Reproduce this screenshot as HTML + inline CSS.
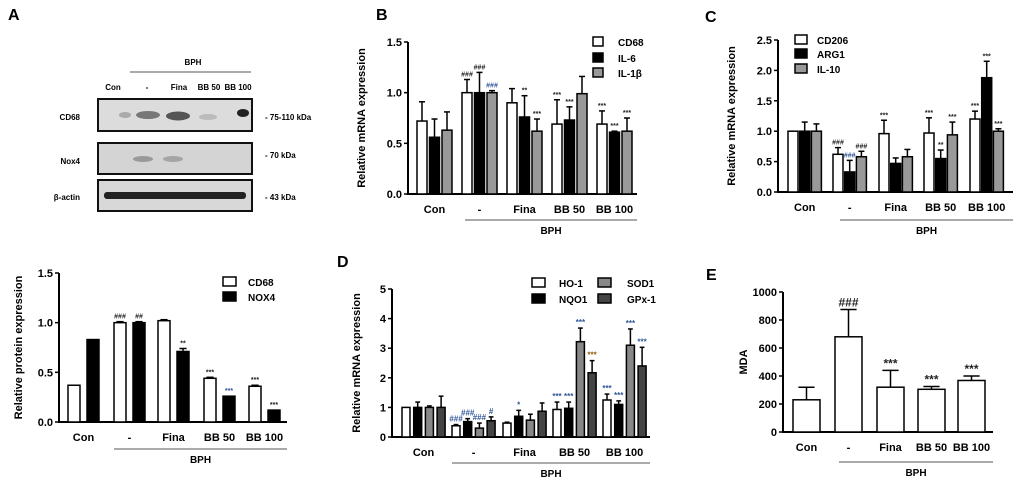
<!DOCTYPE html>
<html><head><meta charset="utf-8">
<style>
body{margin:0;background:#fff;width:1020px;height:487px;overflow:hidden}
svg{position:absolute;left:0;top:0;font-family:"Liberation Sans",Arial,sans-serif}
text{font-weight:bold}
</style></head><body>
<svg id="fig" width="1020" height="487">
<g font-size="8">
<text x="8" y="20" font-size="16">A</text>
<text x="193" y="65" text-anchor="middle">BPH</text>
<line x1="130" y1="72" x2="251" y2="72" stroke="#555" stroke-width="1"/>
<text x="113" y="90" text-anchor="middle">Con</text>
<text x="147" y="90" text-anchor="middle">-</text>
<text x="179" y="90" text-anchor="middle">Fina</text>
<text x="209" y="90" text-anchor="middle">BB 50</text>
<text x="238" y="90" text-anchor="middle">BB 100</text>
<rect x="98" y="99" width="154" height="32" fill="#dcdcdc" stroke="#111" stroke-width="2"/>
<ellipse cx="125" cy="115" rx="6" ry="3" fill="#aaa"/><ellipse cx="148" cy="115" rx="12" ry="4" fill="#777"/><ellipse cx="178" cy="116" rx="12" ry="4.5" fill="#555"/><ellipse cx="208" cy="117" rx="9" ry="3" fill="#bbb"/><ellipse cx="243" cy="113" rx="6" ry="4" fill="#222"/>
<rect x="98" y="143" width="154" height="31" fill="#d4d4d4" stroke="#111" stroke-width="2"/>
<ellipse cx="143" cy="159" rx="10" ry="3" fill="#999"/><ellipse cx="173" cy="159" rx="10" ry="3" fill="#a5a5a5"/>
<rect x="98" y="180" width="154" height="31" fill="#d8d8d8" stroke="#111" stroke-width="2"/>
<rect x="104" y="192" width="142" height="7" rx="3" fill="#222"/>
<text x="80" y="120" text-anchor="end">CD68</text>
<text x="80" y="164" text-anchor="end">Nox4</text>
<text x="80" y="200" text-anchor="end">β-actin</text>
<text x="265" y="120">- 75-110 kDa</text>
<text x="265" y="158">- 70 kDa</text>
<text x="265" y="200">- 43 kDa</text>
</g>
<text x="376" y="20" font-size="16">B</text>
<text x="705" y="22" font-size="16">C</text>
<text x="337" y="267" font-size="16">D</text>
<text x="706" y="280" font-size="16">E</text>
</svg>
<script>
const groups = ["Con","-","Fina","BB 50","BB 100"];
// Panel A (protein)
const aCD68 = [0.37,1.0,1.02,0.44,0.36];
const aCD68Err = [0.37,1.01,1.03,0.45,0.37];
const aNOX4 = [0.83,1.0,0.71,0.26,0.12];
const aNOX4Err = [0.83,1.01,0.74,0.26,0.12];
const aTicks = [0,0.5,1.0,1.5];
// Panel B
const bCD68 = [0.72,1.0,0.9,0.69,0.69];
const bCD68Err = [0.91,1.13,1.04,0.93,0.82];
const bIL6 = [0.56,1.0,0.76,0.73,0.61];
const bIL6Err = [0.74,1.2,0.97,0.86,0.62];
const bIL1 = [0.63,1.0,0.62,0.99,0.62];
const bIL1Err = [0.81,1.02,0.74,1.16,0.75];
const bTicks = [0,0.5,1.0,1.5];
// Panel C
const cCD206 = [1.0,0.62,0.96,0.97,1.2];
const cCD206Err = [1.0,0.73,1.18,1.22,1.33];
const cARG1 = [1.0,0.33,0.47,0.55,1.88];
const cARG1Err = [1.15,0.52,0.56,0.69,2.15];
const cIL10 = [1.0,0.58,0.58,0.94,1.0];
const cIL10Err = [1.12,0.67,0.7,1.15,1.04];
const cTicks = [0,0.5,1.0,1.5,2.0,2.5];
// Panel D
const dHO1 = [1.0,0.38,0.47,0.93,1.25];
const dHO1Err = [1.0,0.42,0.5,1.18,1.45];
const dNQO1 = [1.0,0.52,0.7,0.97,1.1];
const dNQO1Err = [1.18,0.62,0.9,1.18,1.22];
const dSOD1 = [1.0,0.3,0.57,3.22,3.1];
const dSOD1Err = [1.05,0.47,0.77,3.68,3.65];
const dGPX = [1.0,0.55,0.87,2.17,2.4];
const dGPXErr = [1.38,0.68,1.15,2.58,3.03];
const dTicks = [0,1,2,3,4,5];
// Panel E
const eMDA = [230,680,320,305,368];
const eMDAErr = [320,875,440,325,400];
const eTicks = [0,200,400,600,800,1000];

const NS="http://www.w3.org/2000/svg";
const fig=document.getElementById('fig');
function mk(tag,attrs,parent,txt){const e=document.createElementNS(NS,tag);for(const k in attrs)e.setAttribute(k,attrs[k]);if(txt!==undefined)e.textContent=txt;(parent||fig).appendChild(e);return e;}

function chart(c){
  const g=mk('g',{});
  
  
  const y=v=>c.y0-(v/c.max)*(c.y0-c.yTop);
  const ax=mk('line',{x1:c.ax,y1:c.yTop,x2:c.ax,y2:c.y0,stroke:'#000','stroke-width':2},g);
  
  const xa=mk('line',{x1:c.ax-1,y1:c.y0,x2:c.axEnd,y2:c.y0,stroke:'#000','stroke-width':2},g);
  
  c.ticks.forEach(t=>{
    mk('line',{x1:c.ax-4,y1:y(t),x2:c.ax,y2:y(t),stroke:'#000','stroke-width':1.5},g);
    const tl=mk('text',{x:c.ax-6,y:y(t)+4,'text-anchor':'end','font-size':11},g,c.fmt(t));
    
  });
  const yl=mk('text',{x:c.ylx,y:(c.y0+c.yTop)/2,'text-anchor':'middle','font-size':c.ylSize||11,transform:`rotate(-90 ${c.ylx} ${(c.y0+c.yTop)/2})`},g,c.ylabel);
  
  const n=c.series.length;
  groups.forEach((gname,i)=>{
    c.series.forEach((s,j)=>{
      const x=c.starts[i]+j*c.step;
      const v=s.vals[i], e=s.err[i];
      const r=mk('rect',{x:x,y:y(v),width:c.bw,height:c.y0-y(v),fill:s.fill,stroke:'#000','stroke-width':1.5},g);
      
      if(e>v){
        mk('line',{x1:x+c.bw/2,y1:y(v),x2:x+c.bw/2,y2:y(e),stroke:'#000','stroke-width':1.5},g);
        mk('line',{x1:x+c.bw/2-c.bw*0.3,y1:y(e),x2:x+c.bw/2+c.bw*0.3,y2:y(e),stroke:'#000','stroke-width':1.5},g);
      }
      if(s.ann&&s.ann[i]){
        const a=mk('text',{x:x+c.bw/2,y:y(Math.max(e,v))-3,'text-anchor':'middle','font-size':c.annSize||7,fill:s.annCol?s.annCol[i]:'#222'},g,s.ann[i]);
        
      }
    });
    const cx=c.starts[i]+((n-1)*c.step+c.bw)/2;
    const cl=mk('text',{x:cx,y:c.catY,'text-anchor':'middle','font-size':11},g,gname);
    
  });
  const bl=mk('line',{x1:c.bphX1,y1:c.bphY,x2:c.axEnd,y2:c.bphY,stroke:'#555','stroke-width':1},g);
  
  const bt=mk('text',{x:(c.bphX1+c.axEnd)/2,y:c.bphY+14,'text-anchor':'middle','font-size':10},g,'BPH');
  
  (c.legend||[]).forEach(L=>{
    const lr=mk('rect',{x:L.x,y:L.y-5,width:L.w||10,height:9,fill:L.fill,stroke:'#000','stroke-width':1.5},g);
    
    const lt=mk('text',{x:L.tx,y:L.y+4,'font-size':10},g,L.label);
    
  });
}
const f1=t=>t.toFixed(1), f0=t=>String(t);
const B='#2f5597';
chart({name:'chart-a-protein',ax:59,axEnd:287,y0:422,yTop:273,max:1.5,ticks:aTicks,fmt:f1,ylabel:'Relative protein expression',ylx:22,
 starts:[68,114,158,204,249],step:19,bw:12,catY:441,bphX1:114,bphY:449,
 series:[{vals:aCD68,err:aCD68Err,fill:'#fff',ann:['','###','','***','***']},
         {vals:aNOX4,err:aNOX4Err,fill:'#000',ann:['','##','**','***','***'],annCol:['#222','#222','#222',B,'#222']}],
 legend:[{x:223,y:282,w:13,fill:'#fff',tx:248,label:'CD68'},{x:223,y:297,w:13,fill:'#000',tx:248,label:'NOX4'}]});
chart({name:'chart-b-mrna',ax:408,axEnd:637,y0:194,yTop:42,max:1.5,ticks:bTicks,fmt:f1,ylabel:'Relative mRNA expression',ylx:365,
 starts:[417,462,507,552,597],step:12.5,bw:10,catY:213,bphX1:465,bphY:220,
 series:[{vals:bCD68,err:bCD68Err,fill:'#fff',ann:['','###','','***','***']},
         {vals:bIL6,err:bIL6Err,fill:'#000',ann:['','###','**','***','***']},
         {vals:bIL1,err:bIL1Err,fill:'#999',ann:['','###','***','','***'],annCol:['#222',B,'#222','#222','#222']}],
 legend:[{x:593,y:42,fill:'#fff',tx:618,label:'CD68'},{x:593,y:58,fill:'#000',tx:618,label:'IL-6'},{x:593,y:73,fill:'#999',tx:618,label:'IL-1β'}]});
chart({name:'chart-c-mrna',ax:778,axEnd:1013,y0:192,yTop:40,max:2.5,ticks:cTicks,fmt:f1,ylabel:'Relative mRNA expression',ylx:735,
 starts:[788,833,879,924,970],step:11.7,bw:10,catY:211,bphX1:840,bphY:220,
 series:[{vals:cCD206,err:cCD206Err,fill:'#fff',ann:['','###','***','***','***']},
         {vals:cARG1,err:cARG1Err,fill:'#000',ann:['','###','','**','***'],annCol:['#222',B,'#222','#222','#222']},
         {vals:cIL10,err:cIL10Err,fill:'#999',ann:['','###','','***','***']}],
 legend:[{x:795,y:40,w:12,fill:'#fff',tx:817,label:'CD206'},{x:795,y:54,w:12,fill:'#000',tx:817,label:'ARG1'},{x:795,y:69,w:12,fill:'#999',tx:817,label:'IL-10'}]});
chart({name:'chart-d-mrna',ax:392,axEnd:650,y0:437,yTop:289,max:5,ticks:dTicks,fmt:f0,ylabel:'Relative mRNA expression',ylx:360,
 starts:[402,452,503,553,603],step:11.7,bw:8,catY:456,bphX1:452,bphY:463,annSize:8,
 series:[{vals:dHO1,err:dHO1Err,fill:'#fff',ann:['','###','','***','***'],annCol:['#222',B,'#222',B,B]},
         {vals:dNQO1,err:dNQO1Err,fill:'#000',ann:['','###','*','***','***'],annCol:['#222',B,B,B,B]},
         {vals:dSOD1,err:dSOD1Err,fill:'#888',ann:['','###','','***','***'],annCol:['#222',B,'#222',B,B]},
         {vals:dGPX,err:dGPXErr,fill:'#444',ann:['','#','','***','***'],annCol:['#222',B,'#222','#8a5a00',B]}],
 legend:[{x:532,y:283,w:13,fill:'#fff',tx:559,label:'HO-1'},{x:532,y:299,w:13,fill:'#000',tx:559,label:'NQO1'},{x:598,y:283,w:13,fill:'#888',tx:627,label:'SOD1'},{x:598,y:299,w:13,fill:'#444',tx:627,label:'GPx-1'}]});
chart({name:'chart-e-mda',ax:783,axEnd:993,y0:432,yTop:292,max:1000,ticks:eTicks,fmt:f0,ylabel:'MDA',ylx:747,
 starts:[793,835,877,918,958],step:0,bw:27,catY:451,bphX1:839,bphY:462,annSize:12,
 series:[{vals:eMDA,err:eMDAErr,fill:'#fff',ann:['','###','***','***','***']}]});
</script>
</body></html>
